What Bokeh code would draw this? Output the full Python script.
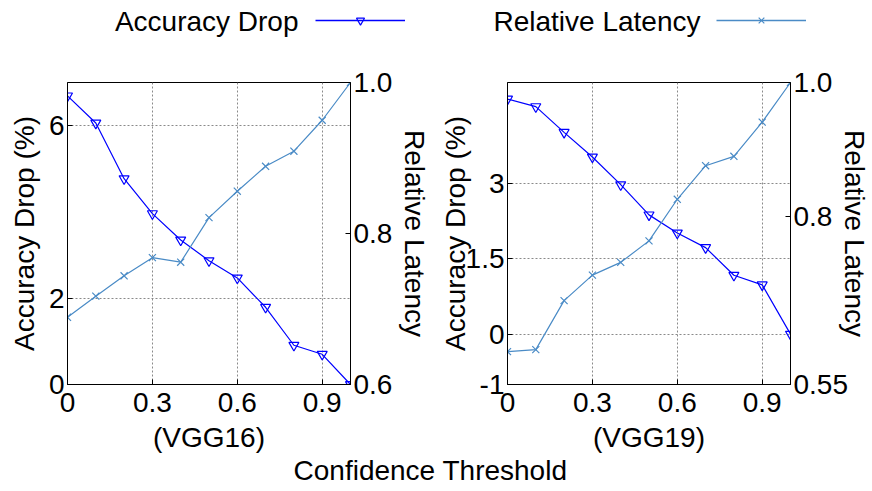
from bokeh.plotting import figure
from bokeh.models import (Range1d, LinearAxis, FixedTicker, Label, Legend, LegendItem,
                          CustomJSTickFormatter)
from bokeh.layouts import column, row
from bokeh.embed import file_html
from bokeh.resources import INLINE

# ---------------- data ----------------
thresholds = [0.0, 0.1, 0.2, 0.3, 0.4, 0.5, 0.6, 0.7, 0.8, 0.9, 1.0]

vgg16_acc_drop = [6.69, 6.06, 4.77, 3.96, 3.35, 2.87, 2.47, 1.79, 0.91, 0.70, 0.0]
vgg16_latency = [0.689, 0.717, 0.744, 0.768, 0.762, 0.821, 0.856, 0.889, 0.909, 0.950, 1.0]

vgg19_acc_drop = [4.67, 4.52, 4.01, 3.52, 2.97, 2.37, 2.01, 1.72, 1.17, 0.98, 0.0]
vgg19_latency = [0.599, 0.602, 0.675, 0.713, 0.732, 0.764, 0.826, 0.876, 0.890, 0.941, 1.0]

x_ticks = [0.0, 0.3, 0.6, 0.9]
x_tick_labels = ["0", "0.3", "0.6", "0.9"]

vgg16_acc_ticks = [0, 2, 6]
vgg16_acc_tick_labels = ["0", "2", "6"]
vgg16_lat_ticks = [0.6, 0.8, 1.0]
vgg16_lat_tick_labels = ["0.6", "0.8", "1.0"]

vgg19_acc_ticks = [-1, 0, 1.5, 3]
vgg19_acc_tick_labels = ["-1", "0", "1.5", "3"]
vgg19_lat_ticks = [0.55, 0.8, 1.0]
vgg19_lat_tick_labels = ["0.55", "0.8", "1.0"]

series_names = ["Accuracy Drop", "Relative Latency"]
panel_names = ["(VGG16)", "(VGG19)"]
x_title = "Confidence Threshold"
acc_axis_title = "Accuracy Drop (%)"
lat_axis_title = "Relative Latency"

# ---------------- style ----------------
FONT = "Liberation Sans"
FS = "28px"
ACC_COLOR = "#0000ff"
LAT_COLOR = "#4a8bc6"
GRID_COLOR = "#8a8a8a"


def fmt(tvals, tlabels):
    return CustomJSTickFormatter(args=dict(tvals=tvals, tlabels=tlabels), code="""
        for (let i = 0; i < tvals.length; i++) {
            if (Math.abs(tvals[i] - tick) < 1e-9) { return tlabels[i]; }
        }
        return "";
    """)


def style_axis(ax, label, label_standoff=4, tick_standoff=4):
    ax.axis_label = label
    ax.axis_label_text_font = FONT
    ax.axis_label_text_font_size = FS
    ax.axis_label_text_font_style = "normal"
    ax.axis_label_text_color = "black"
    ax.axis_label_standoff = label_standoff
    ax.major_label_text_font = FONT
    ax.major_label_text_font_size = FS
    ax.major_label_text_color = "black"
    ax.major_label_standoff = tick_standoff
    ax.major_tick_in = 5
    ax.major_tick_out = 0
    ax.minor_tick_line_color = None
    ax.axis_line_color = "black"
    ax.major_tick_line_color = "black"


def panel(acc, lat, acc_rng, acc_ticks, acc_labels, lat_rng, lat_ticks, lat_labels,
          name, width, height, b_left, b_right, b_top, b_bottom, left_std, right_std):
    p = figure(width=width, height=height, output_backend="svg", toolbar_location=None,
               x_range=Range1d(0, 1), y_range=Range1d(*acc_rng),
               min_border_left=b_left, min_border_right=b_right,
               min_border_top=b_top, min_border_bottom=b_bottom)
    p.extra_y_ranges = {"lat": Range1d(*lat_rng)}
    p.outline_line_color = "black"
    p.outline_line_width = 1
    p.background_fill_color = "white"
    p.border_fill_color = "white"

    p.xaxis.ticker = FixedTicker(ticks=x_ticks)
    p.xaxis.formatter = fmt(x_ticks, x_tick_labels)
    style_axis(p.xaxis[0], name, label_standoff=7, tick_standoff=8)

    p.yaxis.ticker = FixedTicker(ticks=acc_ticks)
    p.yaxis.formatter = fmt(acc_ticks, acc_labels)
    style_axis(p.yaxis[0], acc_axis_title, label_standoff=left_std, tick_standoff=3)

    rax = LinearAxis(y_range_name="lat", ticker=FixedTicker(ticks=lat_ticks),
                     formatter=fmt(lat_ticks, lat_labels))
    style_axis(rax, lat_axis_title, label_standoff=right_std, tick_standoff=3)
    p.add_layout(rax, "right")

    for g in (p.xgrid, p.ygrid):
        g.grid_line_color = GRID_COLOR
        g.grid_line_dash = "2 2"
        g.grid_line_width = 1
    p.xgrid.ticker = FixedTicker(ticks=x_ticks)
    p.ygrid.ticker = FixedTicker(ticks=acc_ticks)

    p.line(thresholds, acc, line_color=ACC_COLOR, line_width=1.2)
    p.scatter(thresholds, acc, marker="inverted_triangle", size=10, fill_color=None,
              line_color=ACC_COLOR, line_width=1.2)
    p.line(thresholds, lat, line_color=LAT_COLOR, line_width=1.2, y_range_name="lat")
    p.scatter(thresholds, lat, marker="x", size=10, line_color=LAT_COLOR,
              line_width=1.2, y_range_name="lat")
    return p


# frame geometry (px): VGG16 frame x 67..350, y 82..389 ; VGG19 frame x 507..790, y 82..387
p1 = panel(vgg16_acc_drop, vgg16_latency, (0, 7), vgg16_acc_ticks, vgg16_acc_tick_labels,
           (0.6, 1.0), vgg16_lat_ticks, vgg16_lat_tick_labels, panel_names[0],
           436, 410, 67, 86, 37, 66, 6, 4)
p2 = panel(vgg19_acc_drop, vgg19_latency, (-1, 5), vgg19_acc_ticks, vgg19_acc_tick_labels,
           (0.55, 1.0), vgg19_lat_ticks, vgg19_lat_tick_labels, panel_names[1],
           436, 410, 71, 82, 37, 68, -8, -12)

# ---------------- legend strip ----------------
leg = figure(width=872, height=45, output_backend="svg", toolbar_location=None,
             x_range=Range1d(0, 1), y_range=Range1d(0, 1),
             min_border_left=0, min_border_right=0, min_border_top=0, min_border_bottom=0)
leg.axis.visible = False
leg.grid.visible = False
leg.outline_line_color = None

nan = float("nan")
la = leg.line([nan], [nan], line_color=ACC_COLOR, line_width=1.5)
sa = leg.scatter([nan], [nan], marker="inverted_triangle", size=9, fill_color=None,
                 line_color=ACC_COLOR, line_width=1.2)
ll = leg.line([nan], [nan], line_color=LAT_COLOR, line_width=1.5)
sl = leg.scatter([nan], [nan], marker="x", size=9, line_color=LAT_COLOR, line_width=1.2)

# gnuplot-style key: text first, then the line sample (a real Bokeh legend glyph)
for (rs, x0, tx, txt) in (([la, sa], 315, 298, series_names[0]),
                          ([ll, sl], 716, 700, series_names[1])):
    lg = Legend(items=[LegendItem(label=txt, renderers=rs)], location=(x0, 15),
                orientation="horizontal", glyph_width=90, glyph_height=20,
                padding=0, margin=0, label_standoff=0, spacing=0,
                border_line_color=None, background_fill_alpha=0,
                label_text_font_size="1px", label_text_alpha=0)
    leg.add_layout(lg)
    leg.add_layout(Label(x=tx, y=24, x_units="screen", y_units="screen", text=txt,
                         text_align="right", text_baseline="middle",
                         text_font=FONT, text_font_size=FS, text_color="black"))

# ---------------- bottom title strip ----------------
bot = figure(width=872, height=36, output_backend="svg", toolbar_location=None,
             x_range=Range1d(0, 1), y_range=Range1d(0, 1),
             min_border_left=0, min_border_right=0, min_border_top=0, min_border_bottom=0)
bot.axis.visible = False
bot.grid.visible = False
bot.outline_line_color = None
bot.add_layout(Label(x=430, y=21, x_units="screen", y_units="screen", text=x_title,
                     text_align="center", text_baseline="middle",
                     text_font=FONT, text_font_size=FS, text_color="black"))

layout = column(leg, row(p1, p2), bot)
open("out.html", "w").write(file_html(layout, INLINE))
